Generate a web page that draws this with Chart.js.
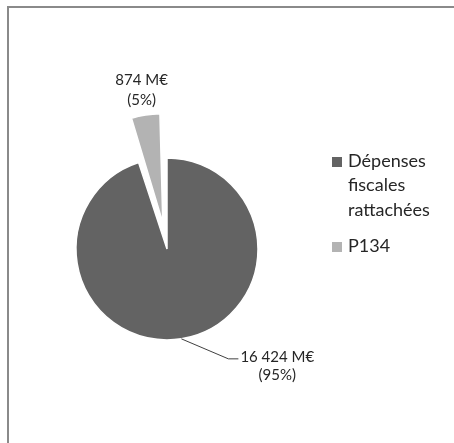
<!DOCTYPE html>
<html>
<head>
<meta charset="utf-8">
<script src="https://cdn.jsdelivr.net/npm/chart.js@4/dist/chart.umd.min.js"></script>
<style>
  html, body { margin: 0; padding: 0; background: #fff; }
  canvas { display: block; }
</style>
</head>
<body>
<canvas id="c" width="454" height="443"></canvas>
<script>
// ---- data ----
const categories = ["Dépenses fiscales rattachées", "P134"];
const legendLines = [["Dépenses", "fiscales", "rattachées"], ["P134"]];
const values = [16424, 874];
const valueLabels = ["16 424 M€", "874 M€"];
const percentLabels = ["(95%)", "(5%)"];
const colors = ["#636363", "#b3b3b3"];

const FONT = "Lato, 'Open Sans', sans-serif";

const decor = {
  id: 'decor',
  beforeDraw(chart) {
    const ctx = chart.ctx;
    ctx.save();
    ctx.fillStyle = '#fff';
    ctx.fillRect(0, 0, chart.width, chart.height);
    ctx.strokeStyle = '#8a8a8a';
    ctx.lineWidth = 2;
    ctx.strokeRect(8, 7, 600, 600);
    ctx.restore();
  },
  afterDatasetsDraw(chart) {
    const ctx = chart.ctx;
    const meta = chart.getDatasetMeta(0);
    ctx.save();
    ctx.fillStyle = '#262626';
    ctx.textBaseline = 'alphabetic';
    meta.data.forEach((arc, i) => {
      const half = (arc.startAngle + arc.endAngle) / 2;
      const circ = arc.endAngle - arc.startAngle;
      const off = (arc.options.offset || 0) / 4;
      const fix = 1 - Math.sin(Math.min(Math.PI, circ));
      const shift = off + off * fix;
      const dx = Math.cos(half), dy = Math.sin(half);
      const r = arc.outerRadius;
      ctx.font = "15px " + FONT;
      if (i === 1) {
        const d = shift + r + 25;
        const cx = arc.x + dx * d, cy = arc.y + dy * d;
        ctx.textAlign = 'center';
        ctx.fillText(valueLabels[i], cx, cy - 5);
        ctx.fillText(percentLabels[i], cx, cy + 15);
      } else {
        const ax = arc.x + dx * r, ay = arc.y + dy * r;
        const ex = ax + 47, ey = ay + 20;
        ctx.strokeStyle = '#404040';
        ctx.lineWidth = 1;
        ctx.beginPath();
        ctx.moveTo(ax, ay);
        ctx.lineTo(ex, ey);
        ctx.lineTo(ex + 10, ey);
        ctx.stroke();
        ctx.textAlign = 'left';
        const tx = ex + 12;
        const w = ctx.measureText(valueLabels[i]).width;
        ctx.fillText(valueLabels[i], tx, ey + 3);
        ctx.textAlign = 'center';
        ctx.fillText(percentLabels[i], tx + w / 2, ey + 21);
      }
    });
    // legend
    const lx = 332;
    const rows = [157, 242];
    ctx.font = "18px " + FONT;
    ctx.textAlign = 'left';
    legendLines.forEach((lines, i) => {
      ctx.fillStyle = colors[i];
      ctx.fillRect(lx, rows[i], 10, 10);
      ctx.fillStyle = '#262626';
      lines.forEach((t, k) => {
        ctx.fillText(t, lx + 16, rows[i] + 10 + k * 24.4);
      });
    });
    ctx.restore();
  }
};

new Chart(document.getElementById('c'), {
  type: 'pie',
  data: {
    labels: categories,
    datasets: [{
      data: values,
      backgroundColor: colors,
      borderColor: '#ffffff',
      borderWidth: 1.5,
      offset: [0, 106]
    }]
  },
  options: {
    responsive: false,
    devicePixelRatio: 1,
    animation: false,
    radius: 91,
    layout: { padding: { left: 20, right: 140, top: 62, bottom: 7 } },
    plugins: {
      legend: { display: false },
      tooltip: { enabled: false }
    }
  },
  plugins: [decor]
});
</script>
</body>
</html>
